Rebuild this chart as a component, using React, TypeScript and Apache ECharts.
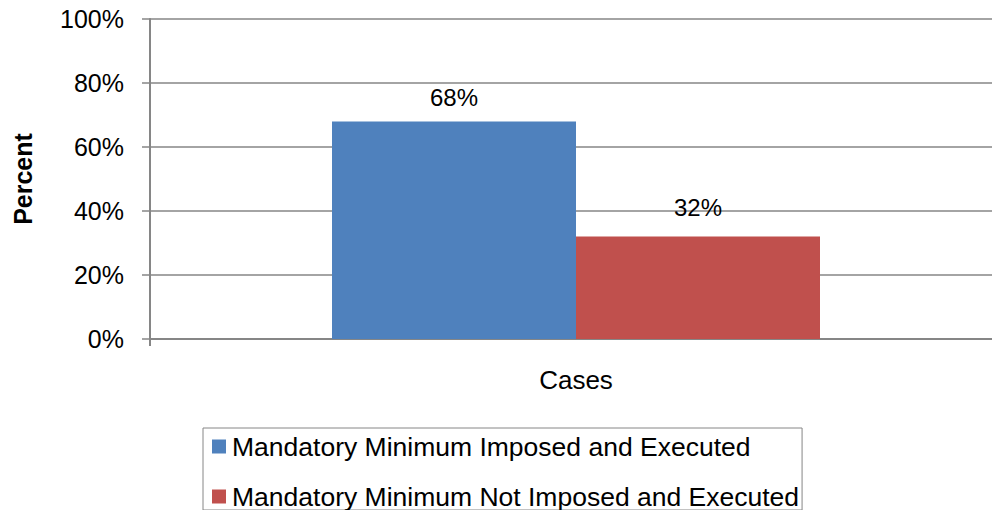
import React, { useEffect, useRef } from "react";
import * as echarts from "echarts";

const categories = ["Cases"];
const seriesNames = [
  "Mandatory Minimum Imposed and Executed",
  "Mandatory Minimum Not Imposed and Executed",
];
const imposedValues = [0.68];
const notImposedValues = [0.32];
const yTickMax = 1;
const yTickStep = 0.2;
const yAxisTitle = "Percent";

const FONT = "'Liberation Sans', Arial, sans-serif";
const GRAY = "#868686";

export default function App() {
  const ref = useRef<HTMLDivElement>(null);
  useEffect(() => {
    if (!ref.current) return;
    const chart = echarts.init(ref.current, null, { renderer: "svg" });
    const pct = (v: number) => `${Math.round(v * 100)}%`;
    chart.setOption({
      animation: false,
      backgroundColor: "#ffffff",
      textStyle: { fontFamily: FONT, color: "#000" },
      grid: { left: 150, top: 19, height: 320, right: 0 },
      xAxis: {
        type: "category",
        data: categories,
        axisLine: { show: true, lineStyle: { color: GRAY, width: 2 } },
        axisTick: { show: true, length: 7, alignWithLabel: false, lineStyle: { color: GRAY, width: 2 } },
        axisLabel: { fontSize: 26, color: "#000", fontFamily: FONT, margin: 28 },
        splitLine: { show: false },
      },
      yAxis: {
        type: "value",
        min: 0,
        max: yTickMax,
        interval: yTickStep,
        name: yAxisTitle,
        nameLocation: "middle",
        nameRotate: 90,
        nameGap: 115,
        nameTextStyle: { fontSize: 25, fontWeight: "bold", color: "#000", fontFamily: FONT },
        axisLine: { show: true, lineStyle: { color: GRAY, width: 2 } },
        axisTick: { show: true, length: 8, lineStyle: { color: GRAY, width: 1.5 } },
        axisLabel: { fontSize: 25, color: "#000", fontFamily: FONT, margin: 26, formatter: (v: number) => pct(v) },
        splitLine: { show: true, lineStyle: { color: GRAY, width: 1.5 } },
      },
      legend: {
        orient: "vertical",
        left: 203,
        top: 428,
        width: 700,
        height: 300,
        padding: [5, 3, 0, 9],
        borderColor: GRAY,
        borderWidth: 1,
        itemWidth: 14,
        itemHeight: 14,
        itemGap: 23,
        icon: "rect",
        textStyle: { fontSize: 26.5, lineHeight: 26, color: "#000", fontFamily: FONT, padding: [0, 0, 0, 1] },
        data: seriesNames,
      },
      series: [
        {
          name: seriesNames[0],
          type: "bar",
          data: imposedValues,
          barWidth: 244,
          barGap: "0%",
          itemStyle: { color: "#4F81BD" },
          label: {
            show: true,
            position: "top",
            distance: 12,
            fontSize: 24,
            color: "#000",
            fontFamily: FONT,
            formatter: (p: any) => pct(p.value),
          },
        },
        {
          name: seriesNames[1],
          type: "bar",
          data: notImposedValues,
          barWidth: 244,
          barGap: "0%",
          itemStyle: { color: "#C0504D" },
          label: {
            show: true,
            position: "top",
            distance: 17,
            fontSize: 24,
            color: "#000",
            fontFamily: FONT,
            formatter: (p: any) => pct(p.value),
          },
        },
      ],
    });
    return () => chart.dispose();
  }, []);
  return (
    <div
      style={{ position: "fixed", left: 0, top: 0, width: 992, height: 510, overflow: "hidden", background: "#fff" }}
    >
      <div ref={ref} style={{ position: "absolute", left: 0, top: 0, width: 1002, height: 510 }} />
    </div>
  );
}
